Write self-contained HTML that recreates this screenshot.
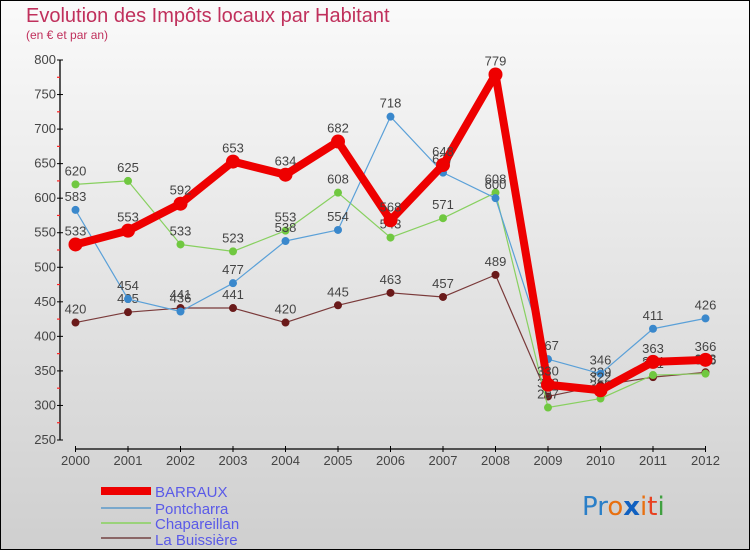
<!DOCTYPE html>
<html><head><meta charset="utf-8"><style>
html,body{margin:0;padding:0}
body{width:750px;height:550px;overflow:hidden;font-family:"Liberation Sans","DejaVu Sans",sans-serif}
#frame{position:absolute;left:0;top:0;width:748px;height:548px;border:1px solid #000;background:linear-gradient(#fafafa,#cfcfcf)}
svg{position:absolute;left:0;top:0}
</style></head><body>
<div id="frame"></div>
<svg id="chart" width="750" height="550" font-family="'Liberation Sans',sans-serif">
<text x="26" y="22" font-size="20" fill="#c0305c">Evolution des Impôts locaux par Habitant</text>
<text x="26" y="39" font-size="12" fill="#c0305c">(en € et par an)</text>
<g id="axes"></g><g id="series"></g>
<g>
<rect x="101" y="487" width="50" height="8" fill="#e00"/>
<text x="155" y="497" font-size="15" fill="#5a5ae8">BARRAUX</text>
<rect x="101" y="507" width="50" height="2" fill="#7aa8cc"/>
<text x="155" y="514" font-size="15" fill="#5a5ae8">Pontcharra</text>
<rect x="101" y="522" width="50" height="2" fill="#9ad27a"/>
<text x="155" y="529" font-size="15" fill="#5a5ae8">Chapareillan</text>
<rect x="101" y="537" width="50" height="2" fill="#8a6666"/>
<text x="155" y="545" font-size="15" fill="#5a5ae8">La Buissière</text>
</g>
<g font-size="26" font-family="'DejaVu Sans',sans-serif">
<text x="582" y="515"><tspan fill="#2a7fc8">Pr</tspan><tspan fill="#e87010">o</tspan><tspan fill="#1060c0" font-weight="bold">x</tspan><tspan fill="#e87010">i</tspan><tspan fill="#e84020">t</tspan><tspan fill="#40a040">i</tspan></text>
</g>
</svg>
<script>
const years=["2000","2001","2002","2003","2004","2005","2006","2007","2008","2009","2010","2011","2012"];
const yTicks=[250,300,350,400,450,500,550,600,650,700,750,800];
const barraux=[533,553,592,653,634,682,568,648,779,330,322,363,366];
const pontcharra=[583,454,436,477,538,554,718,637,600,367,346,411,426];
const chapareillan=[620,625,533,523,553,608,543,571,608,297,310,344,346];
const laBuissiere=[420,435,441,441,420,445,463,457,489,313,329,341,348];
const NS="http://www.w3.org/2000/svg";
const X0=75.5,DX=52.5,Y0=60,Y1=440,VMIN=250,VMAX=800;
const xs=i=>X0+i*DX, ys=v=>Y1-(v-VMIN)/(VMAX-VMIN)*(Y1-Y0);
function mk(t,a,p){const e=document.createElementNS(NS,t);for(const k in a)e.setAttribute(k,a[k]);p.appendChild(e);return e;}
const ax=document.getElementById('axes');
let e=mk('line',{x1:60,y1:Y0,x2:60,y2:Y1,stroke:'#000','stroke-width':1.3},ax);


yTicks.forEach((v,i)=>{
 mk('line',{x1:57,y1:ys(v),x2:63,y2:ys(v),stroke:'#000'},ax);
 if(i<yTicks.length-1) mk('line',{x1:57,y1:ys(v+25),x2:60,y2:ys(v+25),stroke:'#f22','stroke-width':1.2},ax);
 const t=mk('text',{x:56,y:ys(v)+4,'text-anchor':'end','font-size':13,fill:'#444'},ax);
 t.textContent=v;
 
 
});
e=mk('line',{x1:X0,y1:449,x2:xs(12),y2:449,stroke:'#000','stroke-width':1.3},ax);


years.forEach((y,i)=>{
 mk('line',{x1:xs(i),y1:446,x2:xs(i),y2:452,stroke:'#000'},ax);
 const t=mk('text',{x:xs(i),y:465,'text-anchor':'middle','font-size':13,fill:'#444'},ax);
 t.textContent=y;
 
 
});
const sg=document.getElementById('series');
function draw(data,name,color,dot,w,r){
 const g=mk('g',{},sg);
 
 
 mk('polyline',{points:data.map((v,i)=>xs(i)+','+ys(v)).join(' '),fill:'none',stroke:color,'stroke-width':w,'stroke-linejoin':'round'},g);
 data.forEach((v,i)=>{
  const c=mk('circle',{cx:xs(i),cy:ys(v),r:r,fill:dot},g);
  
  
  const t=mk('text',{x:xs(i),y:ys(v)-9,'text-anchor':'middle','font-size':13,fill:'#444'},g);
  t.textContent=v;
  
  
 });
}
draw(laBuissiere,'la-buissiere','#7a3a3a','#6a1a1a',1.2,4);
draw(chapareillan,'chapareillan','#88d060','#70c840',1.2,4);
draw(pontcharra,'pontcharra','#5aa0d8','#3a88cc',1.2,4);
draw(barraux,'barraux','#ee0000','#ee0000',8,7);
</script>
</body></html>
